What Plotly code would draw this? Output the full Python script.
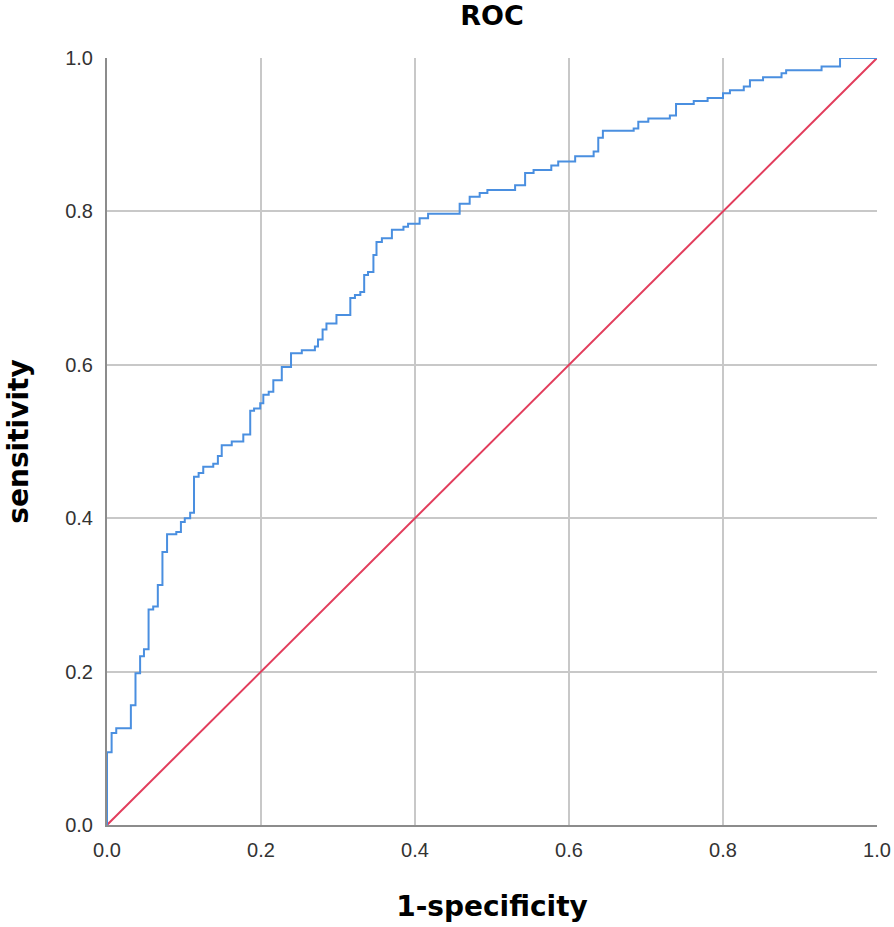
import plotly.graph_objects as go

# ROC curve corner points (step curve)
fpr = [0, 0, 0.006, 0.012, 0.031, 0.037, 0.043, 0.048, 0.054, 0.060, 0.066, 0.072,
       0.078, 0.090, 0.096, 0.101, 0.108, 0.113, 0.119, 0.125, 0.138, 0.144, 0.149,
       0.162, 0.177, 0.186, 0.191, 0.199, 0.203, 0.210, 0.216, 0.227, 0.239, 0.253,
       0.270, 0.274, 0.280, 0.285, 0.298, 0.316, 0.322, 0.329, 0.334, 0.339, 0.346,
       0.350, 0.357, 0.370, 0.385, 0.391, 0.406, 0.417, 0.458, 0.471, 0.484, 0.494,
       0.530, 0.543, 0.554, 0.577, 0.586, 0.608, 0.632, 0.638, 0.644, 0.684, 0.690,
       0.703, 0.731, 0.739, 0.762, 0.780, 0.800, 0.809, 0.827, 0.835, 0.852, 0.876,
       0.882, 0.928, 0.952, 1.0]
tpr = [0, 0.095, 0.120, 0.126, 0.156, 0.198, 0.220, 0.229, 0.281, 0.285, 0.313, 0.356,
       0.379, 0.382, 0.395, 0.400, 0.407, 0.454, 0.459, 0.467, 0.471, 0.481, 0.495,
       0.500, 0.509, 0.540, 0.543, 0.550, 0.561, 0.565, 0.580, 0.597, 0.615, 0.619,
       0.624, 0.633, 0.646, 0.654, 0.665, 0.687, 0.691, 0.695, 0.717, 0.721, 0.743,
       0.760, 0.765, 0.776, 0.780, 0.784, 0.791, 0.797, 0.810, 0.819, 0.824, 0.828,
       0.834, 0.850, 0.854, 0.860, 0.865, 0.872, 0.878, 0.896, 0.905, 0.908, 0.917,
       0.921, 0.925, 0.940, 0.944, 0.948, 0.954, 0.958, 0.963, 0.971, 0.975, 0.980,
       0.984, 0.989, 1.0, 1.0]

# reference line
diag_x = [0, 1]
diag_y = [0, 1]

tick_vals = [0, 0.2, 0.4, 0.6, 0.8, 1.0]
tick_text = ["0.0", "0.2", "0.4", "0.6", "0.8", "1.0"]

fig = go.Figure()

fig.add_trace(go.Scatter(
    x=diag_x, y=diag_y, mode="lines",
    line=dict(color="#e23d5c", width=2),
    showlegend=False, cliponaxis=False,
))

fig.add_trace(go.Scatter(
    x=fpr, y=tpr, mode="lines",
    line=dict(color="#4a8fe0", width=2, shape="hv"),
    showlegend=False, cliponaxis=False,
))

title_font = dict(family="DejaVu Sans, Verdana, sans-serif", size=28, color="black")

axis_common = dict(
    range=[0, 1],
    tickvals=tick_vals,
    ticktext=tick_text,
    showgrid=True,
    gridcolor="#c8c8c8",
    gridwidth=2,
    zeroline=False,
    showline=True,
    linecolor="#8c8c8c",
    linewidth=2,
    ticks="",
    automargin=False,
    tickfont=dict(family="Liberation Sans, Arial, sans-serif", size=20, color="#333333"),
)

fig.update_layout(
    width=894,
    height=927,
    margin=dict(l=107, r=17, t=58, b=102),
    paper_bgcolor="white",
    plot_bgcolor="white",
    title=dict(
        text="<b>ROC</b>",
        x=0.5, xref="paper",
        y=0.983, yref="container", yanchor="middle",
        font=dict(title_font, size=27),
    ),
    xaxis=dict(
        axis_common,
        ticklabelstandoff=6,
        title=dict(text="<b>1-specificity</b>", standoff=36, font=title_font),
    ),
    yaxis=dict(
        axis_common,
        ticklabelstandoff=8,
        title=dict(text="<b>sensitivity</b>", standoff=28, font=title_font),
    ),
)

# drop the default 8px body margin so the figure fills the window exactly
fig.write_html(
    "out.html",
    config={"displayModeBar": False},
    post_script="document.body.style.margin = '0';",
)
